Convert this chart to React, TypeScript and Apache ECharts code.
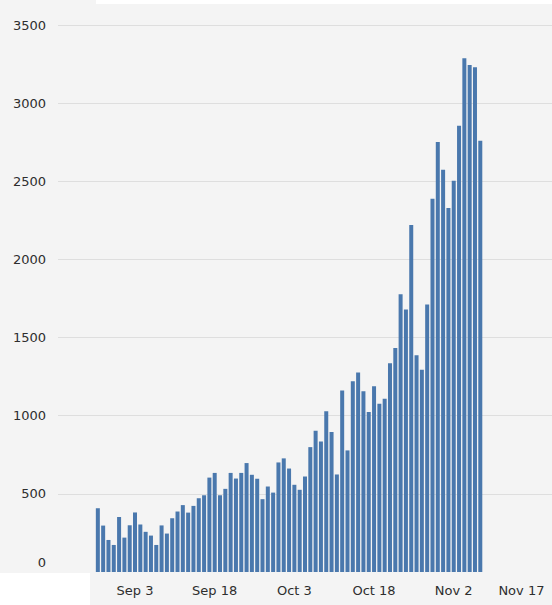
import React, { useEffect, useRef } from "react";
import * as echarts from "echarts";

// Daily values, Aug 27 .. Nov 7
const values: number[] = [
  408, 297, 205, 173, 352, 220, 299, 381, 304, 257,
  233, 173, 298, 246, 344, 387, 428, 380, 423, 472,
  491, 604, 634, 491, 532, 634, 598, 634, 697, 622,
  596, 466, 547, 508, 701, 727, 662, 558, 526, 611,
  799, 904, 835, 1028, 895, 624, 1161, 778, 1220, 1276,
  1156, 1024, 1188, 1077, 1109, 1335, 1434, 1777, 1680, 2220,
  1387, 1294, 1712, 2389, 2752, 2574, 2329, 2504, 2856, 3288,
  3244, 3230, 2759,
];
const axisStart = { year: 2020, month: 7, day: 20 }; // Aug 20 (month index 7)
const axisDays = 93; // Aug 20 .. Nov 20
const firstDataOffset = 7; // Aug 27
const tickLabels = ["Sep 3", "Sep 18", "Oct 3", "Oct 18", "Nov 2", "Nov 17"];
const yTicks = [0, 500, 1000, 1500, 2000, 2500, 3000, 3500];

const monthNames = ["Jan", "Feb", "Mar", "Apr", "May", "Jun", "Jul", "Aug", "Sep", "Oct", "Nov", "Dec"];

function buildCategories(): string[] {
  const out: string[] = [];
  for (let i = 0; i < axisDays; i++) {
    const d = new Date(Date.UTC(axisStart.year, axisStart.month, axisStart.day + i));
    out.push(monthNames[d.getUTCMonth()] + " " + d.getUTCDate());
  }
  return out;
}

export default function App() {
  const ref = useRef<HTMLDivElement>(null);
  useEffect(() => {
    if (!ref.current) return;
    const chart = echarts.init(ref.current, undefined, { renderer: "svg" });
    const categories = buildCategories();
    const data: (number | null)[] = categories.map((_, i) => {
      const k = i - firstDataOffset;
      return k >= 0 && k < values.length ? values[k] : null;
    });
    const font = "DejaVu Sans";
    const lastTick = tickLabels[tickLabels.length - 1];
    chart.setOption({
      animation: false,
      backgroundColor: "#f4f4f4",
      graphic: [
        { type: "rect", left: 96, top: 0, shape: { width: 456, height: 4 }, style: { fill: "#ffffff" }, silent: true },
        { type: "rect", left: 0, top: 573, shape: { width: 90, height: 32 }, style: { fill: "#ffffff" }, silent: true },
      ],
      grid: { left: 58, right: 0, top: 25, bottom: 33 },
      xAxis: {
        type: "category",
        data: categories,
        boundaryGap: true,
        axisLine: { show: false },
        axisTick: { show: false },
        splitLine: { show: false },
        axisLabel: {
          interval: (index: number, value: string) => tickLabels.indexOf(value) >= 0,
          margin: 12,
          color: "#2e2e2e",
          fontFamily: font,
          fontSize: 13,
          formatter: (value: string) => (value === lastTick ? "{last|" + value + "}" : value),
          rich: {
            last: { padding: [0, 24, 0, 0], color: "#2e2e2e", fontFamily: font, fontSize: 13 },
          },
        },
      },
      yAxis: {
        type: "value",
        min: yTicks[0],
        max: yTicks[yTicks.length - 1],
        interval: 500,
        axisLine: { show: false },
        axisTick: { show: false },
        splitLine: {
          show: true,
          lineStyle: {
            color: yTicks.map((_, i) => (i === 0 ? "rgba(0,0,0,0)" : "#dedede")),
            width: 1,
          },
        },
        axisLabel: {
          margin: 12,
          color: "#2e2e2e",
          fontFamily: font,
          fontSize: 13,
          formatter: (v: number) => (v === 0 ? "{z|0}" : String(v)),
          rich: {
            z: { padding: [0, 0, 20, 0], color: "#2e2e2e", fontFamily: font, fontSize: 13 },
          },
        },
      },
      series: [
        {
          type: "bar",
          data,
          barWidth: 4,
          itemStyle: { color: "#4a78ad" },
        },
      ],
    });
    return () => chart.dispose();
  }, []);
  return (
    <div
      ref={ref}
      style={{ position: "fixed", left: 0, top: 0, width: 552, height: 605 }}
    />
  );
}
